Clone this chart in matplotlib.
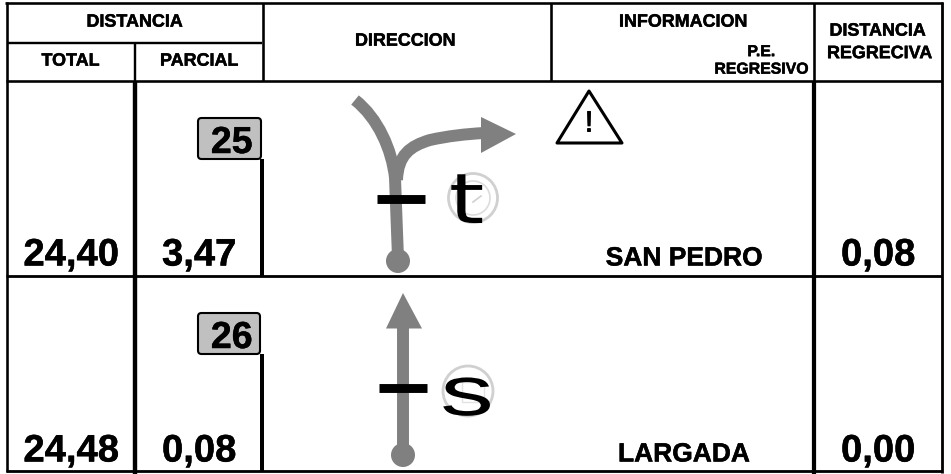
import matplotlib
matplotlib.use('Agg')
import matplotlib.pyplot as plt
import matplotlib.patheffects as pe
from matplotlib.patches import FancyBboxPatch, PathPatch, Polygon, Circle
from matplotlib.path import Path
from matplotlib.transforms import Affine2D

plt.rcParams['font.family'] = ['Liberation Sans', 'DejaVu Sans']
plt.rcParams['text.hinting'] = 'none'
plt.rcParams['text.hinting_factor'] = 1

# valores de la tabla
totales = ['24,40', '24,48']
parciales = ['3,47', '0,08']
regresivas = ['0,08', '0,00']
lugares = ['SAN PEDRO', 'LARGADA']
casillas = ['25', '26']
letras = ['t', 's']

GRIS = '#808080'


# estira el texto sin dejar de ser texto
class Estirar(pe.AbstractPathEffect):
    def __init__(self, cx, cy, sx, sy):
        super().__init__()
        self.t = Affine2D().translate(-cx, -cy).scale(sx, sy).translate(cx, cy)

    def draw_path(self, renderer, gc, tpath, affine, rgbFace=None):
        renderer.draw_path(gc, tpath, affine + self.t, rgbFace)


# un poco mas de peso en las letras negritas
grueso = [pe.withStroke(linewidth=0.35, foreground='black')]

fig = plt.figure(figsize=(9.51, 4.74), dpi=100)
ax = fig.add_axes([0, 0, 1, 1])
ax.set_xlim(0, 951)
ax.set_ylim(474, 0)
ax.axis('off')


def linea(x0, y0, x1, y1, w=3):
    ax.plot([x0, x1], [y0, y1], color='black', lw=w * 0.72, solid_capstyle='butt', zorder=3)


# marco de la cabecera
linea(5, 3.3, 943, 3.3, 2.6)
linea(7, 2, 7, 472, 2.6)
linea(7, 42.7, 262, 42.7, 2.4)
linea(6, 81.2, 942, 81.2, 2.6)
linea(134.5, 42, 134.5, 81, 2.4)
linea(262.5, 3, 262.5, 81, 2.6)
linea(551, 3, 551, 81, 2.6)
linea(813.5, 3, 813.5, 81, 2.6)
linea(941.5, 2, 941.5, 473, 2.8)
# cuerpo
linea(134.5, 81, 134.5, 474, 4.4)
linea(814, 81, 814, 474, 4.2)
linea(6, 276.3, 942, 276.3, 2.8)
linea(6, 471.3, 942, 471.3, 2.8)
linea(262.3, 159, 262.3, 276, 4)
linea(262.3, 354, 262.3, 471, 4)

# textos de cabecera
cab = dict(ha='center', va='center', fontweight='bold', color='black', path_effects=grueso)
ax.text(135, 22, 'DISTANCIA', fontsize=12.9, **cab)
ax.text(71, 61, 'TOTAL', fontsize=12.9, **cab)
ax.text(199.5, 61, 'PARCIAL', fontsize=12.9, **cab)
ax.text(405.5, 41, 'DIRECCION', fontsize=12.9, **cab)
ax.text(683.5, 22, 'INFORMACION', fontsize=12.9, **cab)
ax.text(762, 52, 'P.E.', fontsize=11.4, **cab)
ax.text(762, 69.5, 'REGRESIVO', fontsize=11.4, **cab)
ax.text(878, 31, 'DISTANCIA', fontsize=12.9, **cab)
ax.text(880, 53.5, 'REGRECIVA', fontsize=12.9, **cab)

# filas
base = [265.5, 461.5]
tag_y = [118, 313]
for i in range(2):
    num = dict(ha='center', va='baseline', fontweight='bold', fontsize=27.5, color='black',
               path_effects=grueso)
    ax.text(71, base[i], totales[i], **num)
    ax.text(199, base[i], parciales[i], **num)
    ax.text(878, base[i], regresivas[i], **num)
    ax.text(683, base[i], lugares[i], ha='center', va='baseline', fontweight='bold', fontsize=19,
            path_effects=grueso)
    caja = FancyBboxPatch((198, tag_y[i]), 63 - i, 41, boxstyle='round,pad=0,rounding_size=3.5',
                          fc='#c0c0c0', ec='black', lw=1.5, zorder=4)
    ax.add_patch(caja)
    ax.text(232, tag_y[i] + 35, casillas[i], ha='center', va='baseline', fontweight='bold',
            fontsize=27, zorder=5, path_effects=grueso)

# flecha 1
camino = Path([(355, 100), (378, 118), (392, 150), (395, 178), (398, 258)],
              [Path.MOVETO, Path.CURVE4, Path.CURVE4, Path.CURVE4, Path.LINETO])
ax.add_patch(PathPatch(camino, fc='none', ec=GRIS, lw=8.6, capstyle='butt', zorder=1))
rama = Path([(397, 180), (398, 155), (410, 146), (430, 140), (448, 136), (466, 134), (484, 133)],
            [Path.MOVETO, Path.CURVE4, Path.CURVE4, Path.CURVE4,
             Path.CURVE4, Path.CURVE4, Path.CURVE4])
ax.add_patch(PathPatch(rama, fc='none', ec=GRIS, lw=8.6, capstyle='butt', zorder=1))
ax.add_patch(Polygon([(481, 117), (516, 134), (481, 153)], fc=GRIS, ec='none', zorder=1))
ax.add_patch(Circle((398, 261), 12, fc=GRIS, ec='none', zorder=1))
# flecha 2
ax.plot([403, 403], [325, 455], color=GRIS, lw=8.6, solid_capstyle='butt', zorder=1)
ax.add_patch(Polygon([(403, 293), (386, 328.5), (422, 328.5)], fc=GRIS, ec='none', zorder=1))
ax.add_patch(Circle((403, 455), 12, fc=GRIS, ec='none', zorder=1))

# rayas negras
ax.plot([377, 425], [198.5, 198.5], color='black', lw=6.4, solid_capstyle='butt', zorder=2)
ax.plot([379, 427], [387.5, 387.5], color='black', lw=6.4, solid_capstyle='butt', zorder=2)

# circulos de tiempo y letras
centros = [(473, 198, 24.5), (468, 391, 25)]
for c in centros:
    ax.add_patch(Circle((c[0], c[1]), c[2], fc='white', ec='#d0d0d0', lw=2, zorder=2))
ax.add_patch(Circle((473, 198), 17, fc='none', ec='#dcdcdc', lw=1.2, zorder=2))
ax.plot([473, 481], [202, 196], color='#d0d0d0', lw=1.2, zorder=2)
ax.add_patch(Polygon([(462, 382), (484, 382), (484, 402), (462, 402)], fc='none', ec='#e2e2e2',
                     lw=1, zorder=2))
ax.text(466.5, 204, letras[0], ha='center', va='center', fontsize=50, zorder=3,
        family='DejaVu Sans', path_effects=[Estirar(466.5, 474 - 204, 1.3, 1.0)])
ax.text(467, 397, letras[1], ha='center', va='center', fontsize=44, zorder=3,
        path_effects=[Estirar(467, 474 - 397, 1.75, 1.15)])

# triangulo de aviso
ax.add_patch(Polygon([(589, 91), (557, 143), (622, 143)], fc='none', ec='black', lw=2.2,
                     joinstyle='round', zorder=3))
ax.text(589, 124, '!', ha='center', va='center', fontsize=21, zorder=3,
        path_effects=[pe.withStroke(linewidth=0.7, foreground='black')])

fig.savefig('out.png', dpi=100)
